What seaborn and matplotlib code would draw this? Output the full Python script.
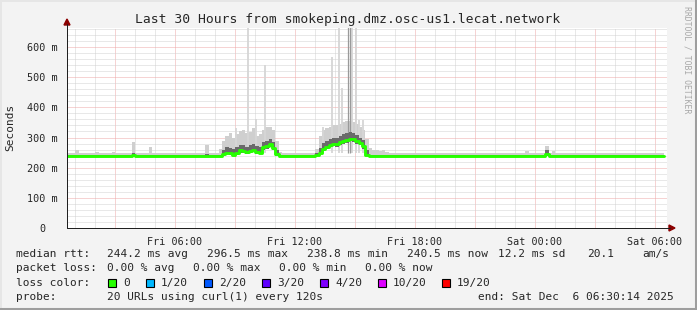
import numpy as np
import pandas as pd
import matplotlib
matplotlib.use("Agg")
import matplotlib.pyplot as plt
import matplotlib.dates as mdates
import matplotlib.transforms as mtrans
from matplotlib.ticker import FixedLocator, FuncFormatter
from matplotlib.patches import Rectangle, Polygon
from matplotlib.lines import Line2D
import seaborn as sns

# ---------------- data ----------------
title = "Last 30 Hours from smokeping.dmz.osc-us1.lecat.network"
start_time = "2025-12-05 00:36"
step = "10min"

rtt_median = [
    240, 240, 240, 240, 240, 240, 240, 240, 240, 240,
    240, 240, 240, 240, 240, 240, 240, 240, 240, 240,
    242, 240, 240, 240, 240, 240, 240, 240, 240, 240,
    240, 240, 240, 240, 240, 240, 240, 240, 240, 240,
    240, 240, 240, 240, 240, 240, 240,
    244, 250, 248, 242, 250, 257, 255, 252, 254, 260, 252, 250, 268, 272, 278, 266, 244, 240,
    240, 240, 240, 240, 240, 240, 240, 240, 240, 240,
    241, 250, 262, 270, 276, 280, 278, 284, 288, 292, 296, 294, 288, 282, 272, 243, 239,
    238, 239, 240, 239, 240, 240, 240, 240, 240, 240,
    240, 240, 240, 240, 240, 240, 240, 240, 240, 240,
    240, 240, 240, 240, 240, 240, 240, 240, 240, 240,
    240, 240, 240, 240, 240, 240, 240, 240, 240, 240,
    240, 240, 240, 240, 240, 240, 240, 240, 240, 240,
    240, 240, 245, 240, 240, 240, 240, 240, 240, 240,
    240, 240, 240, 240, 240, 240, 240, 240, 240, 240,
    240, 240, 240, 240, 240, 240, 240, 240, 240, 240,
    240, 240, 240, 240, 240, 240, 240, 240,
]

rtt_lo = [
    238, 238, 238, 238, 238, 238, 238, 238, 238, 238,
    238, 238, 238, 238, 238, 238, 238, 238, 238, 238,
    239, 238, 238, 238, 238, 238, 238, 238, 238, 238,
    238, 238, 238, 238, 238, 238, 238, 238, 238, 238,
    238, 238, 238, 238, 238, 238, 238,
    240, 244, 242, 238, 243, 249, 248, 245, 247, 252, 246, 244, 258, 263, 268, 258, 240, 238,
    238, 238, 238, 238, 238, 238, 238, 238, 238, 238,
    238, 244, 254, 262, 268, 272, 270, 276, 279, 283, 287, 286, 280, 274, 262, 239, 237,
    237, 237, 238, 237, 238, 238, 238, 238, 238, 238,
    238, 238, 238, 238, 238, 238, 238, 238, 238, 238,
    238, 238, 238, 238, 238, 238, 238, 238, 238, 238,
    238, 238, 238, 238, 238, 238, 238, 238, 238, 238,
    238, 238, 238, 238, 238, 238, 238, 238, 238, 238,
    238, 238, 239, 238, 238, 238, 238, 238, 238, 238,
    238, 238, 238, 238, 238, 238, 238, 238, 238, 238,
    238, 238, 238, 238, 238, 238, 238, 238, 238, 238,
    238, 238, 238, 238, 238, 238, 238, 238,
]

rtt_hi = [
    242, 242, 243, 242, 242, 242, 243, 242, 242, 242,
    242, 243, 242, 242, 242, 242, 242, 243, 242, 242,
    250, 242, 242, 242, 242, 242, 243, 242, 242, 242,
    242, 242, 242, 243, 242, 242, 242, 242, 242, 242,
    242, 242, 244, 242, 242, 242, 243,
    258, 268, 266, 262, 270, 276, 276, 270, 274, 280, 272, 270, 284, 290, 294, 284, 258, 243,
    242, 242, 242, 242, 242, 242, 242, 243, 242, 242,
    250, 266, 282, 290, 296, 300, 300, 306, 310, 314, 318, 315, 308, 300, 292, 258, 243,
    242, 242, 242, 242, 242, 242, 242, 242, 242, 242,
    242, 242, 242, 242, 243, 242, 242, 242, 242, 242,
    242, 242, 242, 242, 242, 242, 242, 242, 243, 242,
    242, 242, 242, 242, 242, 242, 242, 242, 242, 242,
    242, 242, 242, 242, 242, 242, 242, 242, 242, 242,
    242, 242, 258, 242, 242, 242, 242, 242, 242, 242,
    242, 242, 242, 242, 242, 242, 242, 242, 242, 242,
    242, 242, 242, 242, 242, 242, 242, 242, 242, 242,
    242, 242, 242, 242, 242, 242, 242, 243,
]

rtt_max = [
    247, 247, 248, 258, 247, 247, 248, 247, 247, 253,
    247, 248, 247, 247, 253, 247, 247, 248, 247, 247,
    286, 247, 247, 248, 247, 269, 248, 247, 247, 247,
    247, 247, 247, 248, 247, 247, 250, 247, 247, 247,
    247, 247, 275, 247, 247, 248, 262,
    290, 305, 315, 300, 310, 320, 325, 315, 318, 330, 305, 310, 325, 335, 335, 325, 290, 252,
    250, 247, 247, 248, 247, 247, 247, 248, 247, 247,
    262, 305, 325, 330, 335, 340, 340, 345, 350, 355, 355, 350, 345, 335, 325, 295, 264,
    260, 258, 256, 258, 252, 250, 248, 247, 247, 247,
    248, 247, 247, 247, 250, 247, 247, 247, 247, 247,
    247, 247, 247, 247, 247, 247, 247, 247, 250, 247,
    247, 247, 247, 247, 247, 247, 247, 247, 247, 247,
    247, 247, 247, 247, 247, 247, 255, 247, 247, 247,
    247, 247, 272, 247, 255, 247, 247, 247, 247, 247,
    247, 247, 247, 247, 247, 247, 247, 247, 247, 247,
    247, 247, 247, 247, 247, 247, 247, 247, 247, 247,
    247, 247, 247, 247, 247, 247, 247, 248,
]

spike_times = ["2025-12-05 09:03", "2025-12-05 09:39", "2025-12-05 10:03",
               "2025-12-05 10:31", "2025-12-05 13:24", "2025-12-05 13:51",
               "2025-12-05 14:12", "2025-12-05 14:22", "2025-12-05 14:51",
               "2025-12-05 15:03", "2025-12-05 15:12", "2025-12-05 15:24"]
spike_tops = [330, 700, 360, 540, 335, 568, 700, 464, 700, 700, 358, 358]

dense_spike_times = ["2025-12-05 14:40", "2025-12-05 14:44"]
dense_spike_tops = [700, 700]

y_ticks = [0, 100, 200, 300, 400, 500, 600]
y_tick_labels = ["0", "100 m", "200 m", "300 m", "400 m", "500 m", "600 m"]

legend_rows = [
    ["median rtt:", "244.2 ms avg", "296.5 ms max", "238.8 ms min",
     "240.5 ms now", "12.2 ms sd", "20.1", "am/s"],
    ["packet loss:", "0.00 % avg", "0.00 % max", "0.00 % min", "0.00 % now"],
]
loss_labels = ["0", "1/20", "2/20", "3/20", "4/20", "10/20", "19/20"]
loss_colors = ["#26ff00", "#00b8ff", "#0059ff", "#5e00ff", "#7e00ff", "#dd00ff", "#ff0000"]
probe_text = "20 URLs using curl(1) every 120s"
end_text = "end: Sat Dec  6 06:30:14 2025"

# ---------------- figure ----------------
W, H = 697, 310
sns.set_theme(style="white")
plt.rcParams["font.family"] = ["DejaVu Sans Mono", "DejaVu Sans"]
MONO = ["DejaVu Sans Mono", "DejaVu Sans"]

def fx(x):
    return x / W

def fy(y):
    return 1 - y / H

fig = plt.figure(figsize=(W / 100, H / 100), dpi=100)
fig.patch.set_facecolor("#f3f3f3")

ax = fig.add_axes([fx(67), fy(228), 600 / W, 200 / H])
ax.set_facecolor("white")
ax.set_axisbelow(True)

times = pd.date_range(start_time, periods=len(rtt_median), freq=step)

# smoke
ax.fill_between(times, rtt_lo, rtt_max, step="mid", color="#cfcfcf", lw=0, zorder=2)
ax.vlines(pd.to_datetime(spike_times), 250, spike_tops, color="#d6d6d6", lw=1.3, zorder=2)
ax.vlines(pd.to_datetime(dense_spike_times), 250, dense_spike_tops, color="#9a9a9a", lw=0.9, zorder=3)
ax.fill_between(times, rtt_lo, rtt_hi, step="mid", color="#6a6a6a", lw=0, zorder=3)

# median line (loss 0 colour)
df = pd.DataFrame({"time": times, "median": rtt_median})
sns.lineplot(data=df, x="time", y="median", color=loss_colors[0], lw=2.1,
             drawstyle="steps-mid", ax=ax, zorder=5, estimator=None)

ax.set_xlim(pd.Timestamp("2025-12-05 00:36"), pd.Timestamp("2025-12-06 06:36"))
ax.set_ylim(0, 663)

# grid / ticks
major_x = pd.date_range("2025-12-05 03:00", "2025-12-06 06:00", freq="3h")
minor_x = pd.date_range("2025-12-05 01:00", "2025-12-06 06:00", freq="1h")
ax.xaxis.set_major_locator(FixedLocator(mdates.date2num(major_x)))
ax.xaxis.set_minor_locator(FixedLocator(mdates.date2num(minor_x)))

def xfmt(v, pos):
    d = mdates.num2date(v)
    return d.strftime("%a %H:%M") if d.hour % 6 == 0 else ""

ax.xaxis.set_major_formatter(FuncFormatter(xfmt))
ax.set_yticks(y_ticks)
ax.set_yticklabels(y_tick_labels)
ax.yaxis.set_minor_locator(FixedLocator(np.arange(20, 663, 20)))

ax.grid(which="minor", color="#d2d2d2", lw=0.72, linestyle=(0, (1, 1)))
ax.grid(which="major", color="#efa8a8", lw=0.72, linestyle=(0, (1, 1)))
ax.tick_params(which="major", length=2.2, width=0.72, color="#e09090",
               labelsize=7.3, pad=4.5)
ax.tick_params(which="minor", length=0)
for lab in ax.get_xticklabels() + ax.get_yticklabels():
    lab.set_family(MONO)
ax.set_xlabel("")
ax.set_ylabel("")
for s in ax.spines.values():
    s.set_visible(False)

# shift the "0" label like rrdtool does
fig.canvas.draw()
for lab in ax.get_yticklabels():
    if lab.get_text() == "0":
        lab.set_transform(lab.get_transform() + mtrans.ScaledTranslation(-12 / 100, 0, fig.dpi_scale_trans))

# axes lines and arrows (pixel coordinates)
tf = fig.transFigure
fig.add_artist(Line2D([fx(67), fx(67)], [fy(228), fy(24)], color="#202020", lw=0.72, transform=tf))
fig.add_artist(Line2D([fx(67), fx(670)], [fy(228), fy(228)], color="#202020", lw=0.72, transform=tf))
fig.add_artist(Polygon([[fx(64), fy(25)], [fx(70), fy(25)], [fx(67), fy(19)]], closed=True,
                       color="#8b0000", transform=tf))
fig.add_artist(Polygon([[fx(669), fy(225)], [fx(669), fy(231)], [fx(675), fy(228)]], closed=True,
                       color="#8b0000", transform=tf))

# frame shading
fig.add_artist(Line2D([0, 1], [fy(0.5), fy(0.5)], color="#e6e6e6", lw=1.4, transform=tf))
fig.add_artist(Line2D([fx(0.5), fx(0.5)], [0, 1], color="#e6e6e6", lw=1.4, transform=tf))
fig.add_artist(Line2D([0, 1], [fy(309), fy(309)], color="#9e9e9e", lw=2.2, transform=tf))
fig.add_artist(Line2D([fx(696), fx(696)], [0, 1], color="#9e9e9e", lw=2.2, transform=tf))

# texts
fig.text(fx(347.5), fy(19), title, ha="center", va="center", fontsize=9.4, family=MONO)
fig.text(fx(10), fy(127), "Seconds", rotation=90, ha="center", va="center", fontsize=8, family=MONO)
fig.text(fx(686.5), fy(60), "RRDTOOL / TOBI OETIKER", rotation=270, ha="center", va="center",
         fontsize=5.9, color="#a8a8a8", family=MONO)

fs = 8
row1_x = [16, 107, 207, 307, 407, 498, 587, 642]
for t, x in zip(legend_rows[0], row1_x):
    fig.text(fx(x), fy(254), t, ha="left", va="center", fontsize=fs, family=MONO)
row2_x = [16, 107, 193, 279, 365]
for t, x in zip(legend_rows[1], row2_x):
    fig.text(fx(x), fy(268), t, ha="left", va="center", fontsize=fs, family=MONO)

fig.text(fx(16), fy(283), "loss color:", ha="left", va="center", fontsize=fs, family=MONO)
box_x = [108, 146, 204, 262, 320, 378, 442]
for lab, col, bx in zip(loss_labels, loss_colors, box_x):
    fig.add_artist(Rectangle((fx(bx), fy(287)), 8 / W, 8 / H, facecolor=col,
                             edgecolor="black", lw=0.8, transform=tf))
    fig.text(fx(bx + 15), fy(283), lab, ha="left", va="center", fontsize=fs, family=MONO)

fig.text(fx(16), fy(297), "probe:", ha="left", va="center", fontsize=fs, family=MONO)
fig.text(fx(107), fy(297), probe_text, ha="left", va="center", fontsize=fs, family=MONO)
fig.text(fx(478), fy(297), end_text, ha="left", va="center", fontsize=fs, family=MONO)

fig.savefig("out.png", dpi=100, facecolor=fig.get_facecolor())
